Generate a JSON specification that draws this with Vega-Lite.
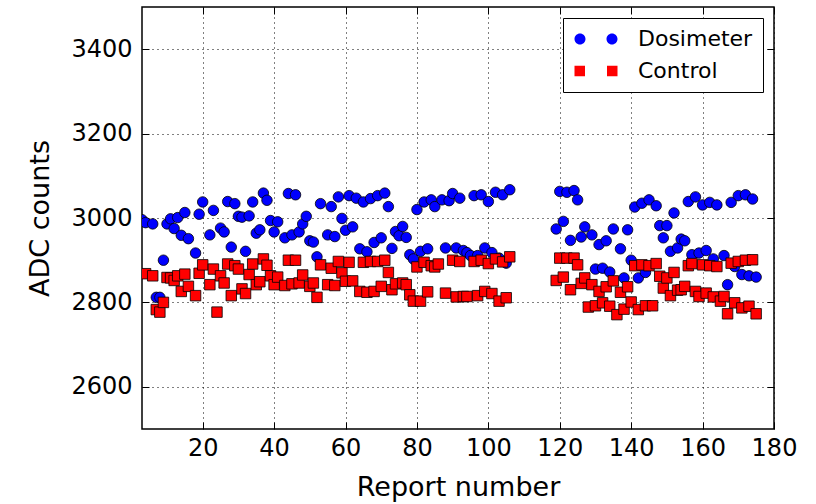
{
  "$schema": "https://vega.github.io/schema/vega-lite/v6.json",
  "width": 632,
  "height": 422,
  "autosize": "none",
  "padding": {"left": 142, "top": 7, "right": 42, "bottom": 75},
  "background": "white",
  "config": {
    "font": "DejaVu Sans",
    "view": {"stroke": "black", "strokeWidth": 1.5},
    "axis": {
      "labelFont": "DejaVu Sans", "labelFontSize": 24, "labelColor": "black",
      "titleFont": "DejaVu Sans", "titleFontSize": 27, "titleFontWeight": "normal", "titleColor": "black",
      "domain": false, "tickColor": "black", "tickWidth": 1, "tickSize": -7, "labelFlush": false, "labelOverlap": false
    },
    "legend": {
      "title": null, "orient": "top-right", "offset": 11,
      "fillColor": "white", "strokeColor": "black", "cornerRadius": 0,
      "padding": 10, "labelFont": "DejaVu Sans", "labelFontSize": 22, "labelColor": "black",
      "symbolSize": 100, "symbolStrokeColor": "black", "symbolStrokeWidth": 0.8, "symbolOpacity": 1,
      "symbolOffset": 12, "labelOffset": 31, "rowPadding": 10
    }
  },
  "data": {
    "values": [
      {"report": 3, "adc": 2996, "series": "Dosimeter"},
      {"report": 4, "adc": 2989, "series": "Dosimeter"},
      {"report": 6, "adc": 2986, "series": "Dosimeter"},
      {"report": 7, "adc": 2812, "series": "Dosimeter"},
      {"report": 8, "adc": 2812, "series": "Dosimeter"},
      {"report": 9, "adc": 2900, "series": "Dosimeter"},
      {"report": 10, "adc": 2986, "series": "Dosimeter"},
      {"report": 11, "adc": 2998, "series": "Dosimeter"},
      {"report": 12, "adc": 2975, "series": "Dosimeter"},
      {"report": 13, "adc": 3001, "series": "Dosimeter"},
      {"report": 14, "adc": 2959, "series": "Dosimeter"},
      {"report": 15, "adc": 3013, "series": "Dosimeter"},
      {"report": 16, "adc": 2951, "series": "Dosimeter"},
      {"report": 18, "adc": 2917, "series": "Dosimeter"},
      {"report": 19, "adc": 3009, "series": "Dosimeter"},
      {"report": 20, "adc": 3038, "series": "Dosimeter"},
      {"report": 22, "adc": 2960, "series": "Dosimeter"},
      {"report": 23, "adc": 3018, "series": "Dosimeter"},
      {"report": 25, "adc": 2976, "series": "Dosimeter"},
      {"report": 26, "adc": 2967, "series": "Dosimeter"},
      {"report": 27, "adc": 3039, "series": "Dosimeter"},
      {"report": 28, "adc": 2931, "series": "Dosimeter"},
      {"report": 29, "adc": 3034, "series": "Dosimeter"},
      {"report": 30, "adc": 3004, "series": "Dosimeter"},
      {"report": 31, "adc": 3002, "series": "Dosimeter"},
      {"report": 32, "adc": 2921, "series": "Dosimeter"},
      {"report": 33, "adc": 3005, "series": "Dosimeter"},
      {"report": 34, "adc": 3038, "series": "Dosimeter"},
      {"report": 35, "adc": 2964, "series": "Dosimeter"},
      {"report": 36, "adc": 2972, "series": "Dosimeter"},
      {"report": 37, "adc": 3059, "series": "Dosimeter"},
      {"report": 38, "adc": 3042, "series": "Dosimeter"},
      {"report": 39, "adc": 2994, "series": "Dosimeter"},
      {"report": 40, "adc": 2967, "series": "Dosimeter"},
      {"report": 41, "adc": 2991, "series": "Dosimeter"},
      {"report": 43, "adc": 2953, "series": "Dosimeter"},
      {"report": 44, "adc": 3058, "series": "Dosimeter"},
      {"report": 45, "adc": 2960, "series": "Dosimeter"},
      {"report": 46, "adc": 3055, "series": "Dosimeter"},
      {"report": 47, "adc": 2967, "series": "Dosimeter"},
      {"report": 48, "adc": 2986, "series": "Dosimeter"},
      {"report": 49, "adc": 3004, "series": "Dosimeter"},
      {"report": 50, "adc": 2946, "series": "Dosimeter"},
      {"report": 51, "adc": 2943, "series": "Dosimeter"},
      {"report": 52, "adc": 2908, "series": "Dosimeter"},
      {"report": 53, "adc": 3034, "series": "Dosimeter"},
      {"report": 55, "adc": 2960, "series": "Dosimeter"},
      {"report": 56, "adc": 3027, "series": "Dosimeter"},
      {"report": 57, "adc": 2956, "series": "Dosimeter"},
      {"report": 58, "adc": 3050, "series": "Dosimeter"},
      {"report": 59, "adc": 2999, "series": "Dosimeter"},
      {"report": 60, "adc": 2971, "series": "Dosimeter"},
      {"report": 61, "adc": 3053, "series": "Dosimeter"},
      {"report": 62, "adc": 2979, "series": "Dosimeter"},
      {"report": 63, "adc": 3047, "series": "Dosimeter"},
      {"report": 64, "adc": 2927, "series": "Dosimeter"},
      {"report": 65, "adc": 3038, "series": "Dosimeter"},
      {"report": 66, "adc": 2920, "series": "Dosimeter"},
      {"report": 67, "adc": 3046, "series": "Dosimeter"},
      {"report": 68, "adc": 2942, "series": "Dosimeter"},
      {"report": 69, "adc": 3053, "series": "Dosimeter"},
      {"report": 70, "adc": 2953, "series": "Dosimeter"},
      {"report": 71, "adc": 3059, "series": "Dosimeter"},
      {"report": 72, "adc": 3027, "series": "Dosimeter"},
      {"report": 73, "adc": 2928, "series": "Dosimeter"},
      {"report": 74, "adc": 2968, "series": "Dosimeter"},
      {"report": 75, "adc": 2958, "series": "Dosimeter"},
      {"report": 76, "adc": 2980, "series": "Dosimeter"},
      {"report": 77, "adc": 2954, "series": "Dosimeter"},
      {"report": 78, "adc": 2913, "series": "Dosimeter"},
      {"report": 79, "adc": 2903, "series": "Dosimeter"},
      {"report": 80, "adc": 3020, "series": "Dosimeter"},
      {"report": 81, "adc": 2921, "series": "Dosimeter"},
      {"report": 82, "adc": 3038, "series": "Dosimeter"},
      {"report": 83, "adc": 2927, "series": "Dosimeter"},
      {"report": 84, "adc": 3043, "series": "Dosimeter"},
      {"report": 85, "adc": 3027, "series": "Dosimeter"},
      {"report": 87, "adc": 3043, "series": "Dosimeter"},
      {"report": 88, "adc": 2929, "series": "Dosimeter"},
      {"report": 89, "adc": 3041, "series": "Dosimeter"},
      {"report": 90, "adc": 3058, "series": "Dosimeter"},
      {"report": 91, "adc": 2929, "series": "Dosimeter"},
      {"report": 92, "adc": 3047, "series": "Dosimeter"},
      {"report": 93, "adc": 2923, "series": "Dosimeter"},
      {"report": 94, "adc": 2918, "series": "Dosimeter"},
      {"report": 95, "adc": 2911, "series": "Dosimeter"},
      {"report": 96, "adc": 3053, "series": "Dosimeter"},
      {"report": 97, "adc": 2911, "series": "Dosimeter"},
      {"report": 98, "adc": 3055, "series": "Dosimeter"},
      {"report": 99, "adc": 2929, "series": "Dosimeter"},
      {"report": 100, "adc": 3039, "series": "Dosimeter"},
      {"report": 101, "adc": 2918, "series": "Dosimeter"},
      {"report": 102, "adc": 3061, "series": "Dosimeter"},
      {"report": 103, "adc": 2905, "series": "Dosimeter"},
      {"report": 104, "adc": 3055, "series": "Dosimeter"},
      {"report": 105, "adc": 2893, "series": "Dosimeter"},
      {"report": 106, "adc": 3067, "series": "Dosimeter"},
      {"report": 119, "adc": 2974, "series": "Dosimeter"},
      {"report": 120, "adc": 3063, "series": "Dosimeter"},
      {"report": 121, "adc": 2992, "series": "Dosimeter"},
      {"report": 122, "adc": 3061, "series": "Dosimeter"},
      {"report": 123, "adc": 2947, "series": "Dosimeter"},
      {"report": 124, "adc": 3065, "series": "Dosimeter"},
      {"report": 125, "adc": 3043, "series": "Dosimeter"},
      {"report": 126, "adc": 2955, "series": "Dosimeter"},
      {"report": 127, "adc": 2979, "series": "Dosimeter"},
      {"report": 129, "adc": 2960, "series": "Dosimeter"},
      {"report": 130, "adc": 2879, "series": "Dosimeter"},
      {"report": 131, "adc": 2937, "series": "Dosimeter"},
      {"report": 132, "adc": 2881, "series": "Dosimeter"},
      {"report": 133, "adc": 2946, "series": "Dosimeter"},
      {"report": 134, "adc": 2872, "series": "Dosimeter"},
      {"report": 135, "adc": 2974, "series": "Dosimeter"},
      {"report": 137, "adc": 2927, "series": "Dosimeter"},
      {"report": 138, "adc": 2858, "series": "Dosimeter"},
      {"report": 139, "adc": 2972, "series": "Dosimeter"},
      {"report": 140, "adc": 2900, "series": "Dosimeter"},
      {"report": 141, "adc": 3026, "series": "Dosimeter"},
      {"report": 142, "adc": 2858, "series": "Dosimeter"},
      {"report": 143, "adc": 3035, "series": "Dosimeter"},
      {"report": 144, "adc": 2871, "series": "Dosimeter"},
      {"report": 145, "adc": 3043, "series": "Dosimeter"},
      {"report": 147, "adc": 3029, "series": "Dosimeter"},
      {"report": 148, "adc": 2982, "series": "Dosimeter"},
      {"report": 149, "adc": 2953, "series": "Dosimeter"},
      {"report": 150, "adc": 2982, "series": "Dosimeter"},
      {"report": 151, "adc": 2921, "series": "Dosimeter"},
      {"report": 152, "adc": 3012, "series": "Dosimeter"},
      {"report": 153, "adc": 2929, "series": "Dosimeter"},
      {"report": 154, "adc": 2950, "series": "Dosimeter"},
      {"report": 155, "adc": 2946, "series": "Dosimeter"},
      {"report": 156, "adc": 3039, "series": "Dosimeter"},
      {"report": 157, "adc": 2913, "series": "Dosimeter"},
      {"report": 158, "adc": 3050, "series": "Dosimeter"},
      {"report": 159, "adc": 2917, "series": "Dosimeter"},
      {"report": 160, "adc": 3031, "series": "Dosimeter"},
      {"report": 161, "adc": 2923, "series": "Dosimeter"},
      {"report": 162, "adc": 3037, "series": "Dosimeter"},
      {"report": 163, "adc": 2903, "series": "Dosimeter"},
      {"report": 164, "adc": 3031, "series": "Dosimeter"},
      {"report": 166, "adc": 2911, "series": "Dosimeter"},
      {"report": 167, "adc": 2842, "series": "Dosimeter"},
      {"report": 168, "adc": 3037, "series": "Dosimeter"},
      {"report": 169, "adc": 2885, "series": "Dosimeter"},
      {"report": 170, "adc": 3053, "series": "Dosimeter"},
      {"report": 171, "adc": 2866, "series": "Dosimeter"},
      {"report": 172, "adc": 3055, "series": "Dosimeter"},
      {"report": 173, "adc": 2863, "series": "Dosimeter"},
      {"report": 174, "adc": 3045, "series": "Dosimeter"},
      {"report": 175, "adc": 2860, "series": "Dosimeter"},
      {"report": 4, "adc": 2868, "series": "Control"},
      {"report": 6, "adc": 2863, "series": "Control"},
      {"report": 7, "adc": 2783, "series": "Control"},
      {"report": 8, "adc": 2777, "series": "Control"},
      {"report": 9, "adc": 2800, "series": "Control"},
      {"report": 10, "adc": 2859, "series": "Control"},
      {"report": 11, "adc": 2858, "series": "Control"},
      {"report": 12, "adc": 2852, "series": "Control"},
      {"report": 13, "adc": 2863, "series": "Control"},
      {"report": 14, "adc": 2826, "series": "Control"},
      {"report": 15, "adc": 2867, "series": "Control"},
      {"report": 16, "adc": 2838, "series": "Control"},
      {"report": 18, "adc": 2816, "series": "Control"},
      {"report": 19, "adc": 2869, "series": "Control"},
      {"report": 20, "adc": 2889, "series": "Control"},
      {"report": 22, "adc": 2842, "series": "Control"},
      {"report": 23, "adc": 2879, "series": "Control"},
      {"report": 24, "adc": 2777, "series": "Control"},
      {"report": 25, "adc": 2863, "series": "Control"},
      {"report": 26, "adc": 2846, "series": "Control"},
      {"report": 27, "adc": 2891, "series": "Control"},
      {"report": 28, "adc": 2816, "series": "Control"},
      {"report": 29, "adc": 2887, "series": "Control"},
      {"report": 30, "adc": 2879, "series": "Control"},
      {"report": 31, "adc": 2832, "series": "Control"},
      {"report": 32, "adc": 2821, "series": "Control"},
      {"report": 33, "adc": 2866, "series": "Control"},
      {"report": 34, "adc": 2891, "series": "Control"},
      {"report": 35, "adc": 2842, "series": "Control"},
      {"report": 36, "adc": 2849, "series": "Control"},
      {"report": 37, "adc": 2903, "series": "Control"},
      {"report": 38, "adc": 2888, "series": "Control"},
      {"report": 39, "adc": 2863, "series": "Control"},
      {"report": 40, "adc": 2842, "series": "Control"},
      {"report": 41, "adc": 2860, "series": "Control"},
      {"report": 43, "adc": 2840, "series": "Control"},
      {"report": 44, "adc": 2900, "series": "Control"},
      {"report": 45, "adc": 2844, "series": "Control"},
      {"report": 46, "adc": 2900, "series": "Control"},
      {"report": 47, "adc": 2846, "series": "Control"},
      {"report": 48, "adc": 2865, "series": "Control"},
      {"report": 50, "adc": 2838, "series": "Control"},
      {"report": 51, "adc": 2846, "series": "Control"},
      {"report": 52, "adc": 2812, "series": "Control"},
      {"report": 53, "adc": 2889, "series": "Control"},
      {"report": 55, "adc": 2842, "series": "Control"},
      {"report": 56, "adc": 2881, "series": "Control"},
      {"report": 57, "adc": 2840, "series": "Control"},
      {"report": 58, "adc": 2897, "series": "Control"},
      {"report": 59, "adc": 2870, "series": "Control"},
      {"report": 60, "adc": 2850, "series": "Control"},
      {"report": 61, "adc": 2895, "series": "Control"},
      {"report": 62, "adc": 2851, "series": "Control"},
      {"report": 64, "adc": 2826, "series": "Control"},
      {"report": 65, "adc": 2895, "series": "Control"},
      {"report": 66, "adc": 2824, "series": "Control"},
      {"report": 67, "adc": 2897, "series": "Control"},
      {"report": 68, "adc": 2826, "series": "Control"},
      {"report": 69, "adc": 2897, "series": "Control"},
      {"report": 70, "adc": 2838, "series": "Control"},
      {"report": 71, "adc": 2900, "series": "Control"},
      {"report": 72, "adc": 2871, "series": "Control"},
      {"report": 73, "adc": 2830, "series": "Control"},
      {"report": 74, "adc": 2844, "series": "Control"},
      {"report": 76, "adc": 2846, "series": "Control"},
      {"report": 77, "adc": 2842, "series": "Control"},
      {"report": 78, "adc": 2818, "series": "Control"},
      {"report": 79, "adc": 2803, "series": "Control"},
      {"report": 80, "adc": 2884, "series": "Control"},
      {"report": 81, "adc": 2803, "series": "Control"},
      {"report": 82, "adc": 2895, "series": "Control"},
      {"report": 83, "adc": 2825, "series": "Control"},
      {"report": 84, "adc": 2887, "series": "Control"},
      {"report": 85, "adc": 2884, "series": "Control"},
      {"report": 86, "adc": 2891, "series": "Control"},
      {"report": 88, "adc": 2822, "series": "Control"},
      {"report": 90, "adc": 2900, "series": "Control"},
      {"report": 91, "adc": 2813, "series": "Control"},
      {"report": 92, "adc": 2897, "series": "Control"},
      {"report": 93, "adc": 2814, "series": "Control"},
      {"report": 94, "adc": 2814, "series": "Control"},
      {"report": 96, "adc": 2897, "series": "Control"},
      {"report": 97, "adc": 2816, "series": "Control"},
      {"report": 98, "adc": 2900, "series": "Control"},
      {"report": 99, "adc": 2826, "series": "Control"},
      {"report": 100, "adc": 2892, "series": "Control"},
      {"report": 101, "adc": 2821, "series": "Control"},
      {"report": 102, "adc": 2903, "series": "Control"},
      {"report": 103, "adc": 2803, "series": "Control"},
      {"report": 104, "adc": 2896, "series": "Control"},
      {"report": 105, "adc": 2811, "series": "Control"},
      {"report": 106, "adc": 2908, "series": "Control"},
      {"report": 119, "adc": 2852, "series": "Control"},
      {"report": 120, "adc": 2905, "series": "Control"},
      {"report": 121, "adc": 2860, "series": "Control"},
      {"report": 122, "adc": 2905, "series": "Control"},
      {"report": 123, "adc": 2830, "series": "Control"},
      {"report": 124, "adc": 2905, "series": "Control"},
      {"report": 125, "adc": 2889, "series": "Control"},
      {"report": 126, "adc": 2845, "series": "Control"},
      {"report": 127, "adc": 2858, "series": "Control"},
      {"report": 128, "adc": 2789, "series": "Control"},
      {"report": 129, "adc": 2842, "series": "Control"},
      {"report": 130, "adc": 2792, "series": "Control"},
      {"report": 131, "adc": 2826, "series": "Control"},
      {"report": 132, "adc": 2799, "series": "Control"},
      {"report": 133, "adc": 2837, "series": "Control"},
      {"report": 134, "adc": 2791, "series": "Control"},
      {"report": 135, "adc": 2851, "series": "Control"},
      {"report": 136, "adc": 2771, "series": "Control"},
      {"report": 137, "adc": 2824, "series": "Control"},
      {"report": 138, "adc": 2784, "series": "Control"},
      {"report": 139, "adc": 2837, "series": "Control"},
      {"report": 140, "adc": 2801, "series": "Control"},
      {"report": 141, "adc": 2887, "series": "Control"},
      {"report": 142, "adc": 2783, "series": "Control"},
      {"report": 143, "adc": 2889, "series": "Control"},
      {"report": 144, "adc": 2792, "series": "Control"},
      {"report": 145, "adc": 2887, "series": "Control"},
      {"report": 146, "adc": 2792, "series": "Control"},
      {"report": 147, "adc": 2892, "series": "Control"},
      {"report": 148, "adc": 2862, "series": "Control"},
      {"report": 149, "adc": 2834, "series": "Control"},
      {"report": 150, "adc": 2858, "series": "Control"},
      {"report": 151, "adc": 2816, "series": "Control"},
      {"report": 152, "adc": 2871, "series": "Control"},
      {"report": 153, "adc": 2829, "series": "Control"},
      {"report": 154, "adc": 2830, "series": "Control"},
      {"report": 155, "adc": 2838, "series": "Control"},
      {"report": 156, "adc": 2887, "series": "Control"},
      {"report": 157, "adc": 2892, "series": "Control"},
      {"report": 158, "adc": 2826, "series": "Control"},
      {"report": 159, "adc": 2814, "series": "Control"},
      {"report": 160, "adc": 2889, "series": "Control"},
      {"report": 161, "adc": 2822, "series": "Control"},
      {"report": 162, "adc": 2887, "series": "Control"},
      {"report": 163, "adc": 2813, "series": "Control"},
      {"report": 164, "adc": 2885, "series": "Control"},
      {"report": 165, "adc": 2803, "series": "Control"},
      {"report": 166, "adc": 2814, "series": "Control"},
      {"report": 167, "adc": 2773, "series": "Control"},
      {"report": 168, "adc": 2893, "series": "Control"},
      {"report": 169, "adc": 2799, "series": "Control"},
      {"report": 170, "adc": 2897, "series": "Control"},
      {"report": 171, "adc": 2787, "series": "Control"},
      {"report": 172, "adc": 2900, "series": "Control"},
      {"report": 173, "adc": 2791, "series": "Control"},
      {"report": 174, "adc": 2901, "series": "Control"},
      {"report": 175, "adc": 2773, "series": "Control"}
    ]
  },
  "layer": [
    {
      "transform": [{"filter": "datum.series === 'Dosimeter'"}],
      "mark": {"type": "point", "shape": "circle", "filled": true, "opacity": 1, "stroke": "black", "strokeWidth": 0.8, "size": 110, "clip": true},
      "encoding": {
        "x": {
          "field": "report", "type": "quantitative",
          "scale": {"domain": [3, 180], "nice": false, "zero": false},
          "axis": {"title": "Report number", "values": [20, 40, 60, 80, 100, 120, 140, 160, 180],
                   "grid": true, "gridColor": "black", "gridDash": [1, 4], "gridWidth": 1,
                   "labelPadding": 14, "titlePadding": 14}
        },
        "y": {
          "field": "adc", "type": "quantitative",
          "scale": {"domain": [2500, 3500], "nice": false, "zero": false},
          "axis": {"title": "ADC counts", "values": [2600, 2800, 3000, 3200, 3400], "format": "d",
                   "grid": true, "gridColor": "black", "gridDash": [1, 4], "gridWidth": 1,
                   "labelPadding": 17, "titlePadding": 16}
        },
        "color": {
          "field": "series", "type": "nominal",
          "scale": {"domain": ["Dosimeter", "Control"], "range": ["#0000ff", "#ff0000"]}
        }
      }
    },
    {
      "transform": [{"filter": "datum.series === 'Control'"}],
      "mark": {"type": "point", "shape": "square", "filled": true, "opacity": 1, "stroke": "black", "strokeWidth": 0.8, "size": 110, "clip": true},
      "encoding": {
        "x": {
          "field": "report", "type": "quantitative",
          "axis": {"title": null, "values": [20, 40, 60, 80, 100, 120, 140, 160, 180], "labels": false, "grid": false}
        },
        "y": {
          "field": "adc", "type": "quantitative",
          "axis": {"title": null, "values": [2600, 2800, 3000, 3200, 3400], "labels": false, "grid": false}
        },
        "color": {"field": "series", "type": "nominal"}
      }
    },
    {
      "transform": [{"filter": "false"}],
      "mark": {"type": "point", "filled": true, "opacity": 1, "stroke": "black", "strokeWidth": 0.8},
      "encoding": {
        "color": {"field": "series", "type": "nominal"},
        "shape": {
          "field": "series", "type": "nominal",
          "scale": {
            "domain": ["Dosimeter", "Control"],
            "range": [
              "M -4.3 0 A 1.1 1.1 0 1 0 -2.1 0 A 1.1 1.1 0 1 0 -4.3 0 Z M 2.1 0 A 1.1 1.1 0 1 0 4.3 0 A 1.1 1.1 0 1 0 2.1 0 Z",
              "M -4.3 -1.05 H -2.2 V 1.05 H -4.3 Z M 2.2 -1.05 H 4.3 V 1.05 H 2.2 Z"
            ]
          }
        }
      }
    }
  ],
  "resolve": {"axis": {"x": "independent", "y": "independent"}}
}
